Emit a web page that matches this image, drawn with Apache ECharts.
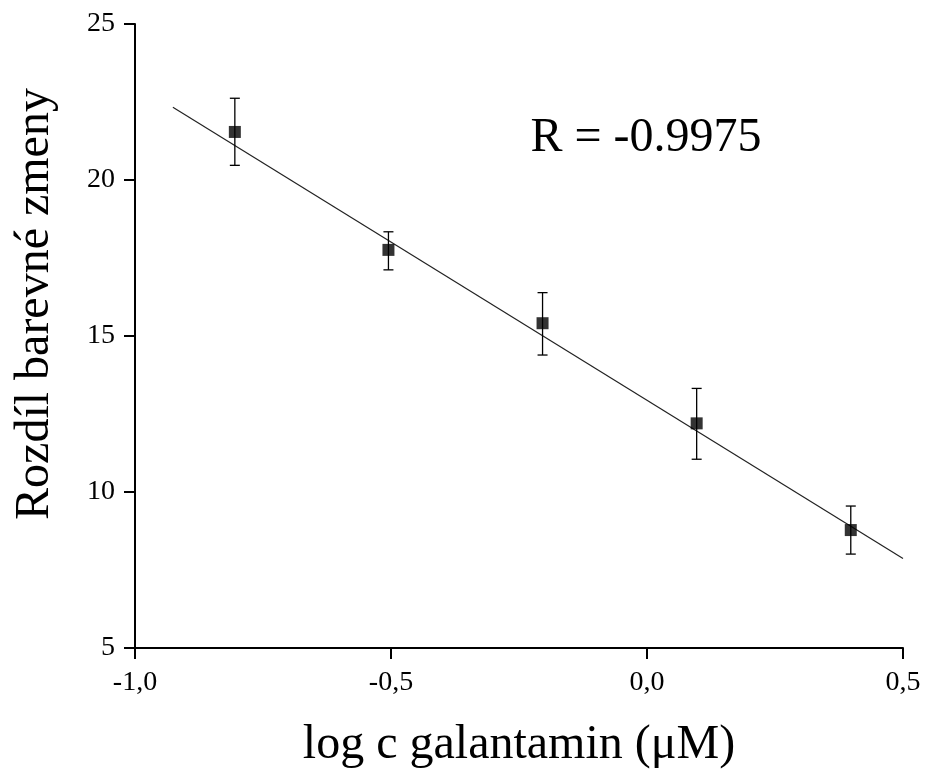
<!DOCTYPE html>
<html lang="cs">
<head>
    <meta charset="UTF-8">
    <title>Galantamin kalibrace</title>
    <script type="text/javascript" src="https://cdn.jsdelivr.net/npm/echarts@6/dist/echarts.min.js"></script>
    <style>
        html, body { margin: 0; padding: 0; background: #fff; }
    </style>
</head>
<body>
    <div id="charts" style="width:925px;height:769px;"></div>
</body>
<script type="text/javascript">
    // data
    var logC = [-0.805, -0.505, -0.204, 0.097, 0.398];
    var rozdil = [21.54, 17.76, 15.41, 12.2, 8.78];
    var errLow = [20.47, 17.12, 14.39, 11.05, 8.01];
    var errHigh = [22.62, 18.34, 16.39, 13.32, 9.55];
    // regresni primka (krajni body)
    var fitX = [-0.926, 0.5];
    var fitY = [22.33, 7.87];

    var font = '"Liberation Serif", "DejaVu Serif", serif';
    var myChart = echarts.init(document.getElementById('charts'));

    var points = logC.map(function (x, i) { return [x, rozdil[i]]; });
    var bars = logC.map(function (x, i) { return [x, errLow[i], errHigh[i]]; });
    var fit = fitX.map(function (x, i) { return [x, fitY[i]]; });

    var option = {
        animation: false,
        grid: {
            left: 135, top: 24, right: 22, bottom: 121,
            containLabel: false,
            outerBoundsMode: 'none'
        },
        xAxis: {
            type: 'value',
            min: -1, max: 0.5, interval: 0.5,
            name: 'log c galantamin (\u03bcM)',
            nameLocation: 'middle',
            nameGap: 73,
            nameTextStyle: { fontFamily: font, fontSize: 48, color: '#000' },
            axisLine: { onZero: false, lineStyle: { color: '#000', width: 2 } },
            axisTick: { show: true, inside: false, length: 11, lineStyle: { color: '#000', width: 2 } },
            axisLabel: {
                margin: 21, fontFamily: font, fontSize: 28, color: '#000',
                formatter: function (v) { return v.toFixed(1).replace('.', ','); }
            },
            splitLine: { show: false }
        },
        yAxis: {
            type: 'value',
            min: 5, max: 25, interval: 5,
            axisLine: { show: true, onZero: false, lineStyle: { color: '#000', width: 2 } },
            axisTick: { show: true, inside: false, length: 11, lineStyle: { color: '#000', width: 2 } },
            axisLabel: { margin: 20, fontFamily: font, fontSize: 28, color: '#000' },
            splitLine: { show: false }
        },
        graphic: [{
            type: 'text',
            x: 35, y: 304,
            rotation: Math.PI / 2,
            style: {
                text: 'Rozdíl barevné zmeny',
                font: '48px ' + font,
                fill: '#000',
                align: 'center',
                verticalAlign: 'middle'
            }
        }, {
            type: 'text',
            x: 646, y: 138,
            style: {
                text: 'R = -0.9975',
                font: '48px ' + font,
                fill: '#000',
                align: 'center',
                verticalAlign: 'middle'
            }
        }],
        series: [{
            type: 'line',
            data: fit,
            symbol: 'none',
            lineStyle: { color: '#222', width: 1.2 },
            z: 2
        }, {
            type: 'custom',
            data: bars,
            renderItem: function (params, api) {
                var x = api.value(0);
                var lo = api.coord([x, api.value(1)]);
                var hi = api.coord([x, api.value(2)]);
                var w = 5;
                var st = { stroke: '#000', lineWidth: 1.3 };
                return {
                    type: 'group',
                    children: [
                        { type: 'line', shape: { x1: lo[0], y1: lo[1], x2: hi[0], y2: hi[1] }, style: st },
                        { type: 'line', shape: { x1: lo[0] - w, y1: lo[1], x2: lo[0] + w, y2: lo[1] }, style: st },
                        { type: 'line', shape: { x1: hi[0] - w, y1: hi[1], x2: hi[0] + w, y2: hi[1] }, style: st }
                    ]
                };
            },
            z: 3
        }, {
            type: 'scatter',
            data: points,
            symbol: 'rect',
            symbolSize: 12,
            itemStyle: { color: '#000' },
            z: 4
        }]
    };

    myChart.setOption(option);
</script>
</html>
